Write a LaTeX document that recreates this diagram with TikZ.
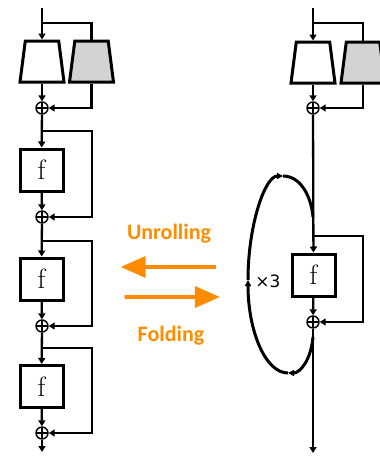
\documentclass[tikz,border=0pt]{standalone}
\usepackage{fontspec}
\newfontfamily\calibri{Carlito}
\newfontfamily\dejavu{DejaVu Sans}
\usetikzlibrary{arrows.meta,shapes.geometric,shapes.arrows,calc}
\definecolor{foldorange}{RGB}{255,140,0}
\definecolor{gengray}{RGB}{211,211,211}

\begin{document}
\begin{tikzpicture}[x=1pt, y=-1pt, line width=2.3pt,
  >={Triangle[length=6pt,width=7pt]},
  fbox/.style={draw, line width=3pt, minimum width=43pt, minimum height=42pt, inner sep=0pt, font=\fontsize{28}{28}\selectfont},
  trap/.style={trapezium, draw, line width=3pt, trapezium stretches=true, trapezium angle=81, minimum width=44pt, minimum height=41pt, inner sep=2pt},
  sum/.style={circle, draw, line width=1.4pt, minimum size=12pt, inner sep=0pt,
    path picture={\draw[line width=1.4pt] (path picture bounding box.north) -- (path picture bounding box.south)
      (path picture bounding box.west) -- (path picture bounding box.east);}},
  bigarrow/.style={single arrow, fill=foldorange, inner sep=0pt, minimum width=22pt, minimum height=95pt,
    single arrow head extend=5.5pt, single arrow tip angle=48},
  word/.style={text=foldorange, font=\calibri\bfseries\fontsize{22}{22}\selectfont},
  loopline/.style={line width=3pt, -{Triangle[length=6pt,width=6pt]}}]
\useasboundingbox (0,0) rectangle (380,456);
% Unrolled network
\node[trap] (enc1) at (42,61.5) {};
\node[trap, fill=gengray] (gen1) at (91.5,61.5) {};
\node[sum] (sum1) at (42,108) {};
\node[fbox] (f1) at (41.5,170) {f};
\node[sum] (sum2) at (42,217) {};
\node[fbox] (f2) at (41.5,279) {f};
\node[sum] (sum3) at (42,326) {};
\node[fbox] (f3) at (41.5,386.5) {f};
\node[sum] (sum4) at (42,433) {};
\coordinate (in1) at (42,8);
\coordinate (br1) at (42,23);
\coordinate (br2) at (42,131);
\coordinate (br3) at (42,241);
\coordinate (br4) at (42,348);
\coordinate (out1) at (42,452);
\draw[->] (in1) -- (enc1.north);
\draw (br1) -| (gen1.north);
\draw[->] (enc1) -- (sum1);
\draw[->] (gen1.south) |- (sum1.east);
\draw[->] (sum1) -- (f1);
\draw[->] (br2) -- ++(50,0) |- (sum2.east);
\draw[->] (f1) -- (sum2);
\draw[->] (sum2) -- (f2);
\draw[->] (br3) -- ++(50,0) |- (sum3.east);
\draw[->] (f2) -- (sum3);
\draw[->] (sum3) -- (f3);
\draw[->] (br4) -- ++(50,0) |- (sum4.east);
\draw[->] (f3) -- (sum4);
\draw[->] (sum4) -- (out1);
% Unrolling / Folding
\node[word] (unrolltxt) at (169,234) {Unrolling};
\node[bigarrow, shape border rotate=180] (unroll) at (170.5,267) {};
\node[bigarrow] (fold) at (170,297) {};
\node[word] (foldtxt) at (171,336) {Folding};
% Folded network
\node[trap] (enc2) at (313,62.5) {};
\node[trap, fill=gengray] (gen2) at (363,62.5) {};
\node[sum] (sum5) at (313,108) {};
\node[fbox] (f4) at (313.5,275) {f};
\node[sum] (sum6) at (313,322) {};
\coordinate (in2) at (313,8);
\coordinate (br5) at (313,23);
\coordinate (br6) at (313,236);
\coordinate (out2) at (313,453);
\draw[->] (in2) -- (enc2.north);
\draw (br5) -| (gen2.north);
\draw[->] (enc2) -- (sum5);
\draw[->] (gen2.south) |- (sum5.east);
\draw[->] (sum5) -- (f4);
\draw[->] (br6) -- ++(50,0) |- (sum6.east);
\draw[->] (f4) -- (sum6);
\draw[->] (sum6) -- (out2);
% Loop
\coordinate (loopa) at (313,337);
\coordinate (loopb) at (288,373);
\coordinate (loopc) at (248,280);
\coordinate (loopd) at (283,176);
\coordinate (loope) at (313,217);
\draw[loopline] (loopa) .. controls (311,360) and (300,373) .. (loopb);
\draw[loopline] (loopb) .. controls (265,373) and (248,330) .. (loopc);
\draw[loopline] (loopc) .. controls (248,225) and (265,176) .. (loopd);
\draw[line width=3pt] (loopd) .. controls (300,176) and (311,195) .. (loope);
\node[font=\dejavu\fontsize{17}{17}\selectfont] (times) at (268,281) {×3};
\end{tikzpicture}
\end{document}
